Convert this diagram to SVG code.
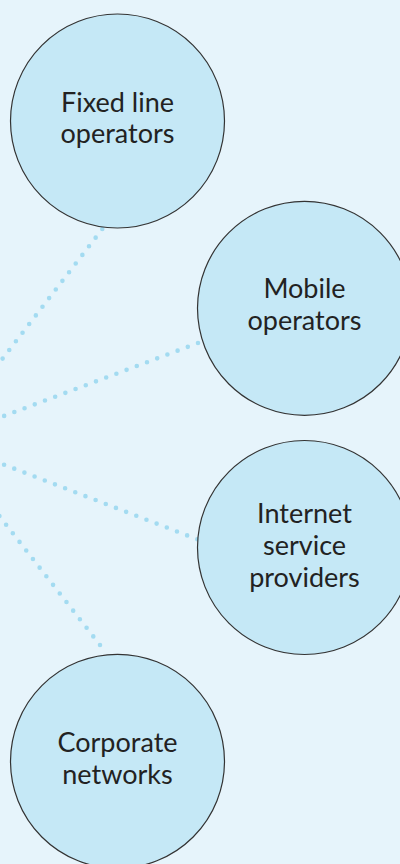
<svg xmlns="http://www.w3.org/2000/svg" width="400" height="864" viewBox="0 0 400 864">
<style>
.bg{fill:#e6f4fb}
.node{fill:#c5e8f6;stroke:#333;stroke-width:1.2}
.lbl{font-family:Lato,"Noto Sans",sans-serif;font-size:27px;fill:#222;text-anchor:middle}
.dot{stroke:#a3dbf1;stroke-width:4.6;stroke-linecap:round;stroke-dasharray:0 10.9;fill:none}
</style>
<rect class="bg" x="0" y="0" width="400" height="864"/>
<g id="connectors">
<line class="dot" x1="102.3" y1="229" x2="-60" y2="440"/>
<line class="dot" x1="198" y1="343" x2="-60" y2="440"/>
<line class="dot" x1="197.3" y1="539.3" x2="-60" y2="440"/>
<line class="dot" x1="100" y1="645" x2="-60" y2="440"/>
</g>
<g id="fixed">
<circle class="node" cx="117.5" cy="121" r="107"/>
<text class="lbl" x="117.5" y="111.7">Fixed line</text>
<text class="lbl" x="117.5" y="143.3">operators</text>
</g>
<g id="mobile">
<circle class="node" cx="304.5" cy="308.3" r="107"/>
<text class="lbl" x="304.5" y="298.3">Mobile</text>
<text class="lbl" x="304.5" y="329.5">operators</text>
</g>
<g id="isp">
<circle class="node" cx="304.5" cy="547.5" r="107"/>
<text class="lbl" x="304.5" y="522.7">Internet</text>
<text class="lbl" x="304.5" y="555">service</text>
<text class="lbl" x="304.5" y="586.7">providers</text>
</g>
<g id="corporate">
<circle class="node" cx="117.5" cy="761.3" r="107"/>
<text class="lbl" x="117.5" y="751.7">Corporate</text>
<text class="lbl" x="117.5" y="784">networks</text>
</g>
</svg>
